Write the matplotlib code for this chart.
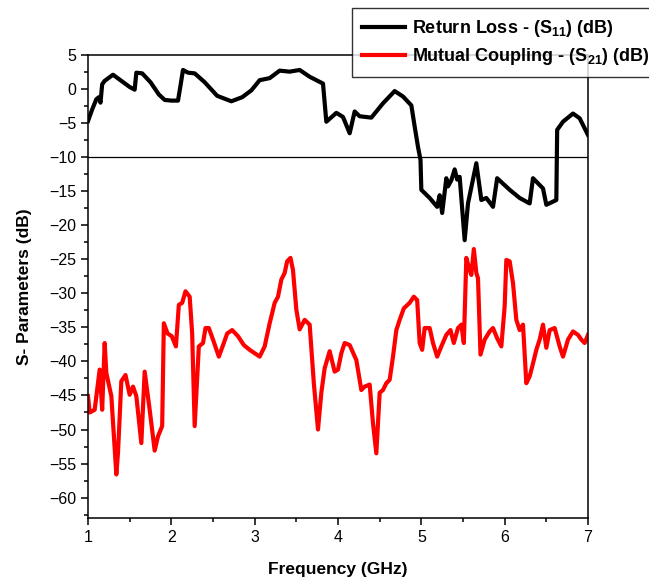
import matplotlib
matplotlib.use("Agg")
import matplotlib.pyplot as plt
from matplotlib.ticker import MultipleLocator

plt.rcParams['font.family'] = ['Liberation Sans', 'DejaVu Sans']
plt.rcParams['mathtext.fontset'] = 'custom'
plt.rcParams['mathtext.bf'] = 'Liberation Sans:bold'
plt.rcParams['mathtext.rm'] = 'Liberation Sans:bold'
plt.rcParams['mathtext.default'] = 'bf'

# return loss S11 (dB)
f_s11 = [1.00, 1.05, 1.10, 1.13, 1.15, 1.17, 1.20, 1.30, 1.40, 1.50, 1.56, 1.58, 1.65,
         1.75, 1.85, 1.92, 2.00, 2.08, 2.11, 2.14, 2.20, 2.28, 2.40, 2.55, 2.72, 2.85,
         2.96, 3.06, 3.18, 3.30, 3.42, 3.54, 3.66, 3.82, 3.86, 3.98, 4.06, 4.14, 4.20,
         4.26, 4.40, 4.54, 4.68, 4.78, 4.88, 4.92, 4.96, 4.99, 5.00, 5.10, 5.19, 5.22,
         5.25, 5.30, 5.32, 5.36, 5.40, 5.43, 5.46, 5.52, 5.56, 5.66, 5.72, 5.78, 5.86,
         5.91, 6.06, 6.18, 6.30, 6.34, 6.46, 6.50, 6.62, 6.63, 6.70, 6.82, 6.90, 7.00]
s11 = [-4.7, -3.0, -1.5, -1.2, -2.0, 0.7, 1.2, 2.1, 1.2, 0.3, -0.1, 2.4, 2.3,
       1.0, -0.8, -1.6, -1.7, -1.7, 0.5, 2.8, 2.4, 2.3, 1.0, -1.0, -1.8, -1.2,
       -0.2, 1.3, 1.6, 2.7, 2.55, 2.8, 1.8, 0.8, -4.8, -3.5, -4.1, -6.5, -3.3,
       -4.0, -4.2, -2.1, -0.3, -1.1, -2.4, -5.5, -8.5, -10.4, -14.8, -16.0, -17.3, -15.6,
       -18.2, -13.1, -14.3, -13.4, -11.8, -13.3, -12.9, -22.2, -16.8, -10.9, -16.3, -16.0, -17.3,
       -13.1, -14.8, -16.0, -16.8, -13.1, -14.6, -17.0, -16.3, -6.0, -4.8, -3.6, -4.3, -6.75]

# mutual coupling S21 (dB)
f_s21 = [1.00, 1.02, 1.08, 1.14, 1.17, 1.20, 1.22, 1.28, 1.34, 1.36, 1.40, 1.45, 1.50,
         1.54, 1.58, 1.64, 1.68, 1.74, 1.80, 1.84, 1.89, 1.91, 1.955, 2.005, 2.055, 2.09,
         2.13, 2.17, 2.22, 2.25, 2.28, 2.33, 2.38, 2.41, 2.45, 2.50, 2.57, 2.63, 2.67,
         2.73, 2.80, 2.87, 2.94, 3.06, 3.12, 3.18, 3.24, 3.28, 3.32, 3.36, 3.39, 3.43,
         3.46, 3.50, 3.54, 3.60, 3.66, 3.71, 3.76, 3.80, 3.84, 3.90, 3.96, 4.00, 4.04,
         4.08, 4.14, 4.22, 4.28, 4.32, 4.38, 4.42, 4.46, 4.50, 4.54, 4.58, 4.62, 4.66,
         4.70, 4.74, 4.79, 4.86, 4.91, 4.95, 4.98, 5.01, 5.04, 5.10, 5.14, 5.19, 5.24,
         5.30, 5.35, 5.39, 5.44, 5.48, 5.51, 5.54, 5.58, 5.60, 5.63, 5.66, 5.68, 5.71,
         5.76, 5.82, 5.86, 5.91, 5.96, 6.00, 6.02, 6.06, 6.10, 6.14, 6.18, 6.22, 6.26,
         6.30, 6.34, 6.38, 6.42, 6.46, 6.50, 6.54, 6.60, 6.66, 6.70, 6.76, 6.82, 6.88,
         6.92, 6.96, 7.00]
s21 = [-45.1, -47.5, -47.1, -41.2, -47.1, -37.3, -41.7, -45.1, -56.6, -53.4, -42.9, -42.0, -44.9,
       -43.7, -45.1, -52.0, -41.5, -47.1, -53.1, -51.0, -49.5, -34.4, -35.9, -36.3, -37.8, -31.7,
       -31.4, -29.7, -30.5, -35.9, -49.5, -37.8, -37.3, -35.1, -35.1, -36.8, -39.3, -37.3, -35.9,
       -35.4, -36.3, -37.6, -38.3, -39.3, -37.8, -34.4, -31.4, -30.5, -28.0, -27.0, -25.3, -24.8,
       -26.6, -32.4, -35.3, -33.9, -34.6, -43.2, -50.0, -44.6, -41.0, -38.5, -41.5, -41.2, -38.8,
       -37.3, -37.6, -39.8, -44.2, -43.7, -43.4, -49.1, -53.5, -44.6, -44.2, -43.2, -42.7, -39.3,
       -35.4, -33.9, -32.2, -31.4, -30.5, -31.0, -37.3, -38.3, -35.1, -35.1, -37.3, -39.3, -37.8,
       -36.1, -35.4, -37.3, -35.1, -34.6, -37.3, -24.8, -26.6, -27.3, -23.5, -27.0, -27.8, -39.0,
       -36.8, -35.6, -35.1, -36.6, -37.8, -31.9, -25.1, -25.3, -28.5, -33.9, -35.4, -34.6, -43.2,
       -42.2, -40.3, -38.3, -36.8, -34.6, -38.0, -35.4, -35.1, -37.8, -39.3, -36.8, -35.6, -36.1,
       -36.8, -37.3, -36.1]

fig = plt.figure(figsize=(6.49, 5.88), dpi=100)
ax = fig.add_axes([0.1356, 0.119, 0.7704, 0.7875])

ax.plot(f_s11, s11, color='black', lw=3, label='Return Loss - (S$_{11}$) (dB)')
ax.plot(f_s21, s21, color='red', lw=3, label='Mutual Coupling - (S$_{21}$) (dB)')
ax.axhline(-10, color='black', lw=0.9)

ax.set_xlim(1, 7)
ax.set_ylim(-63, 5)
ax.xaxis.set_major_locator(MultipleLocator(1))
ax.xaxis.set_minor_locator(MultipleLocator(0.5))
ax.yaxis.set_major_locator(MultipleLocator(5))
ax.yaxis.set_minor_locator(MultipleLocator(2.5))
ax.set_yticks(range(-60, 6, 5))
ax.tick_params(which='major', direction='out', length=5, width=1.1, labelsize=11.5)
ax.tick_params(which='minor', direction='out', length=3, width=1.1)
for s in ax.spines.values():
    s.set_linewidth(1.1)

ax.set_xlabel('Frequency (GHz)', fontsize=12.5, fontweight='bold', labelpad=12)
ax.set_ylabel('S- Parameters (dB)', fontsize=12.5, fontweight='bold', labelpad=12)

leg = fig.legend(loc='upper left', bbox_to_anchor=(352 / 649, 1 - 8 / 588),
                 prop={'weight': 'bold', 'size': 13}, frameon=True, fancybox=False,
                 edgecolor='black', handlelength=2.4, borderpad=0.55, labelspacing=0.4,
                 handletextpad=0.35, borderaxespad=0)
leg.get_frame().set_linewidth(1.0)
for line in leg.get_lines():
    line.set_linewidth(3)

fig.savefig('out.png', dpi=100)
